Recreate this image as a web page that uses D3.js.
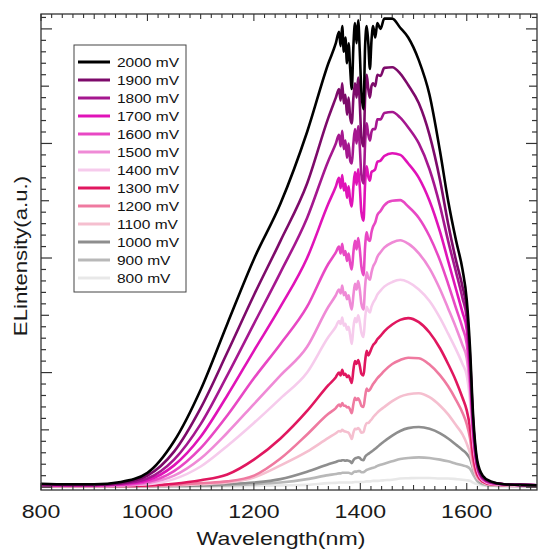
<!DOCTYPE html>
<html><head><meta charset="utf-8">
<script src="https://cdn.jsdelivr.net/npm/d3@7"></script>
<style>body{margin:0;background:#fff}svg{display:block}text{font-family:"Liberation Sans",Arial,sans-serif}</style>
</head><body><svg id="c" width="539" height="550"></svg>
<script>
const wavelengths = [800,850,900,950,1000,1050,1100,1150,1200,1250,1300,
  1340,1354,1360,1363,1366,1369,1372,1375,1378,1381,1384,1387,1390,1393,1396,1399,1402,1406,1409,1412,1415,1418,1421,1424,1428,1432,1438,1445,
  1460,1475,1490,1510,1530,1550,1565,1580,1592,1600,1606,1612,1620,1630,1645,1670,1700,1732];
const labels = ["2000 mV","1900 mV","1800 mV","1700 mV","1600 mV","1500 mV","1400 mV","1300 mV","1200 mV","1100 mV","1000 mV","900 mV","800 mV"];
const colors = ["#000000","#7d0a6a","#a5178f","#e013b8","#e848c4","#ef8ad6","#f6cbec","#e0175f","#ef7aa0","#f5bfcf","#8e8e8e","#b8b8b8","#e8e8e8"];
const v2000 = [0.06,0.05,0.05,0.09,0.25,0.80,1.70,2.85,3.98,4.95,6.20,
  7.40,7.75,7.95,7.70,8.05,7.60,7.85,7.40,7.75,7.30,6.95,7.70,8.10,7.75,8.15,7.60,6.90,6.60,7.70,8.05,7.75,7.30,7.80,8.05,7.85,8.10,8.00,8.18,
  8.18,8.02,7.85,7.45,6.85,5.85,5.00,4.30,3.80,3.27,2.45,1.25,0.45,0.20,0.10,0.05,0.04,0.03];
const v1900 = [0.05,0.04,0.04,0.07,0.20,0.62,1.38,2.35,3.35,4.30,5.30,
  6.45,6.80,6.95,6.75,7.05,6.70,6.85,6.50,6.80,6.45,6.35,6.80,7.05,6.80,7.15,6.70,6.10,5.95,6.80,7.20,6.95,6.80,7.00,7.05,7.00,7.20,7.18,7.32,
  7.33,7.22,7.02,6.70,6.15,5.35,4.60,3.95,3.50,3.10,2.30,1.15,0.40,0.17,0.09,0.05,0.04,0.03];
const v1800 = [0.04,0.04,0.04,0.06,0.15,0.48,1.10,1.95,2.85,3.75,4.70,
  5.70,6.00,6.15,5.95,6.22,5.90,6.05,5.75,6.00,5.70,5.65,6.00,6.25,6.00,6.30,5.95,5.45,5.30,6.00,6.35,6.15,6.05,6.20,6.25,6.25,6.42,6.42,6.53,
  6.55,6.45,6.28,6.00,5.55,4.90,4.30,3.75,3.30,2.95,2.20,1.10,0.38,0.16,0.08,0.05,0.04,0.03];
const v1700 = [0.04,0.03,0.03,0.05,0.12,0.38,0.88,1.60,2.38,3.15,4.00,
  4.95,5.25,5.40,5.22,5.45,5.18,5.30,5.05,5.25,5.00,4.90,5.25,5.50,5.28,5.55,5.25,4.80,4.65,5.30,5.60,5.42,5.35,5.50,5.52,5.55,5.68,5.70,5.78,
  5.83,5.80,5.65,5.40,5.00,4.45,3.95,3.45,3.05,2.75,2.05,1.02,0.36,0.15,0.08,0.05,0.04,0.03];
const v1600 = [0.03,0.03,0.03,0.04,0.09,0.28,0.68,1.25,1.90,2.50,3.15,
  3.90,4.10,4.20,4.08,4.25,4.05,4.12,3.95,4.08,3.90,3.80,4.10,4.30,4.15,4.35,4.15,3.85,3.70,4.20,4.45,4.32,4.30,4.45,4.55,4.62,4.75,4.82,4.92,
  5.00,5.01,4.90,4.70,4.38,3.95,3.55,3.12,2.78,2.50,1.90,0.95,0.34,0.14,0.07,0.05,0.04,0.03];
const v1500 = [0.03,0.03,0.03,0.03,0.07,0.20,0.50,0.95,1.45,1.95,2.45,
  3.15,3.35,3.45,3.38,3.52,3.35,3.40,3.28,3.35,3.20,3.10,3.35,3.55,3.45,3.60,3.45,3.20,3.10,3.50,3.75,3.65,3.62,3.75,3.85,3.92,4.02,4.10,4.18,
  4.27,4.31,4.25,4.08,3.82,3.45,3.12,2.78,2.48,2.25,1.72,0.88,0.32,0.13,0.07,0.05,0.04,0.03];
const v1400 = [0.03,0.02,0.02,0.03,0.05,0.14,0.36,0.72,1.12,1.55,2.00,
  2.62,2.80,2.90,2.85,2.96,2.82,2.85,2.75,2.80,2.65,2.50,2.78,2.95,2.88,3.00,2.88,2.70,2.62,2.95,3.15,3.08,3.05,3.15,3.22,3.28,3.36,3.43,3.50,
  3.58,3.62,3.58,3.45,3.25,2.95,2.68,2.40,2.15,1.95,1.52,0.80,0.30,0.12,0.06,0.04,0.03,0.03];
const v1300 = [0.02,0.02,0.02,0.02,0.03,0.06,0.12,0.22,0.48,0.85,1.33,
  1.78,1.92,2.00,1.95,2.05,1.96,1.98,1.92,1.95,1.88,1.82,2.05,2.20,2.15,2.22,2.12,1.98,1.95,2.20,2.38,2.30,2.35,2.42,2.48,2.52,2.58,2.64,2.72,
  2.84,2.92,2.95,2.88,2.70,2.42,2.15,1.85,1.56,1.34,1.05,0.55,0.22,0.10,0.05,0.04,0.03,0.02];
const v1200 = [0.02,0.02,0.02,0.02,0.02,0.04,0.07,0.10,0.20,0.50,0.92,
  1.28,1.38,1.44,1.41,1.47,1.42,1.42,1.39,1.40,1.35,1.29,1.45,1.56,1.52,1.55,1.50,1.42,1.40,1.58,1.72,1.68,1.70,1.75,1.80,1.85,1.90,1.96,2.03,
  2.15,2.22,2.26,2.25,2.14,1.95,1.76,1.52,1.30,1.10,0.86,0.46,0.19,0.09,0.05,0.03,0.03,0.02];
const v1100 = [0.02,0.02,0.02,0.02,0.02,0.03,0.05,0.08,0.17,0.38,0.62,
  0.86,0.94,0.98,0.97,1.00,0.98,0.97,0.96,0.95,0.90,0.84,0.95,1.02,1.01,1.03,1.00,0.95,0.96,1.06,1.12,1.12,1.15,1.18,1.22,1.26,1.30,1.35,1.40,
  1.50,1.58,1.62,1.64,1.57,1.42,1.27,1.08,0.92,0.76,0.60,0.35,0.15,0.08,0.04,0.03,0.02,0.02];
const v1000 = [0.02,0.02,0.02,0.02,0.02,0.02,0.03,0.05,0.08,0.14,0.27,
  0.40,0.44,0.46,0.46,0.47,0.47,0.46,0.47,0.46,0.45,0.42,0.47,0.50,0.51,0.52,0.51,0.48,0.47,0.53,0.56,0.58,0.60,0.62,0.64,0.67,0.70,0.75,0.80,
  0.90,0.98,1.03,1.05,1.02,0.94,0.85,0.74,0.65,0.58,0.50,0.32,0.14,0.07,0.04,0.03,0.02,0.02];
const v900 = [0.01,0.01,0.01,0.01,0.01,0.02,0.02,0.03,0.05,0.08,0.14,
  0.21,0.23,0.24,0.24,0.25,0.25,0.25,0.25,0.25,0.24,0.23,0.26,0.27,0.27,0.28,0.28,0.26,0.26,0.28,0.30,0.31,0.32,0.33,0.34,0.35,0.37,0.39,0.41,
  0.45,0.49,0.51,0.52,0.51,0.48,0.45,0.41,0.38,0.36,0.32,0.22,0.10,0.05,0.03,0.02,0.02,0.01];
const v800 = [0.01,0.01,0.01,0.01,0.01,0.01,0.01,0.01,0.02,0.03,0.04,
  0.07,0.075,0.08,0.08,0.08,0.08,0.08,0.08,0.08,0.08,0.08,0.085,0.09,0.09,0.09,0.09,0.09,0.09,0.095,0.10,0.10,0.10,0.105,0.11,0.11,0.11,0.115,0.12,
  0.13,0.15,0.155,0.16,0.16,0.15,0.15,0.14,0.13,0.12,0.11,0.08,0.05,0.03,0.02,0.02,0.01,0.01];
const seriesValues = [v2000,v1900,v1800,v1700,v1600,v1500,v1400,v1300,v1200,v1100,v1000,v900,v800];
const xTickLabels = [800,1000,1200,1400,1600];

const svg = d3.select("#c");
const L = 41, R = 537, T = 14, B = 490;
const x = d3.scaleLinear().domain([800, 1732]).range([L, R]);
const y = d3.scaleLinear().domain([-0.05, 8.26]).range([B, T]);

const series = labels.map((lab, i) => ({label: lab, color: colors[i],
  pts: wavelengths.map((w, j) => [w, seriesValues[i][j]])}));

const line = d3.line().x(d => x(d[0])).y(d => y(d[1])).curve(d3.curveMonotoneX);
const g = svg.append("g");
series.slice().reverse().forEach(s => {
  g.append("path").attr("d", line(s.pts)).attr("fill", "none")
    .attr("stroke", s.color).attr("stroke-width", 2.6).attr("stroke-linejoin", "round");
});

// frame
const axc = "#333";
svg.append("rect").attr("x", L).attr("y", T).attr("width", R - L).attr("height", B - T)
  .attr("fill", "none").attr("stroke", axc).attr("stroke-width", 1.3);

// y ticks (inward, both sides)
const yMinor = d3.range(0, 42).map(k => k * 0.2).filter(v => v <= 8.26);
yMinor.forEach(v => {
  const isMaj = Math.abs(v - Math.round(v)) < 1e-6;
  const len = isMaj ? (Math.round(v) % 2 === 0 ? 11 : 8) : 5;
  svg.append("line").attr("x1", L).attr("x2", L + len).attr("y1", y(v)).attr("y2", y(v)).attr("stroke", axc).attr("stroke-width", 1.2);
  svg.append("line").attr("x1", R).attr("x2", R - len).attr("y1", y(v)).attr("y2", y(v)).attr("stroke", axc).attr("stroke-width", 1.2);
});
// x ticks (inward, top and bottom)
const xMinor = d3.range(800, 1733, 20);
xMinor.forEach(v => {
  const len = (v % 200 === 0) ? 7 : (v % 100 === 0 ? 5 : 4);
  svg.append("line").attr("y1", B).attr("y2", B - len).attr("x1", x(v)).attr("x2", x(v)).attr("stroke", axc).attr("stroke-width", 1.1);
  svg.append("line").attr("y1", T).attr("y2", T + len).attr("x1", x(v)).attr("x2", x(v)).attr("stroke", axc).attr("stroke-width", 1.1);
});

// x tick labels
xTickLabels.forEach(v => {
  svg.append("text").attr("transform", `translate(${x(v)},518) scale(1.25,1)`)
    .attr("text-anchor", "middle").attr("font-size", 18.5).attr("fill", "#1a1a1a").text(v);
});
svg.append("text").attr("transform", "translate(281,545) scale(1.25,1)")
  .attr("text-anchor", "middle").attr("font-size", 18.5).attr("fill", "#1a1a1a").text("Wavelength(nm)");
svg.append("text").attr("transform", "translate(27,256) rotate(-90) scale(1.2,1)")
  .attr("text-anchor", "middle").attr("font-size", 18.5).attr("fill", "#1a1a1a").text("ELintensity(a.u.)");

// legend
const lg = svg.append("g");
lg.append("rect").attr("x", 74).attr("y", 45).attr("width", 112).attr("height", 247)
  .attr("fill", "#fff").attr("stroke", "#444").attr("stroke-width", 1);
series.forEach((s, i) => {
  const cy = 62 + i * 18;
  lg.append("line").attr("x1", 78).attr("x2", 110).attr("y1", cy).attr("y2", cy)
    .attr("stroke", s.color).attr("stroke-width", 3);
  lg.append("text").attr("transform", `translate(117,${cy + 5}) scale(1.15,1)`)
    .attr("font-size", 13.5).attr("fill", "#111").text(s.label);
});
</script></body></html>
